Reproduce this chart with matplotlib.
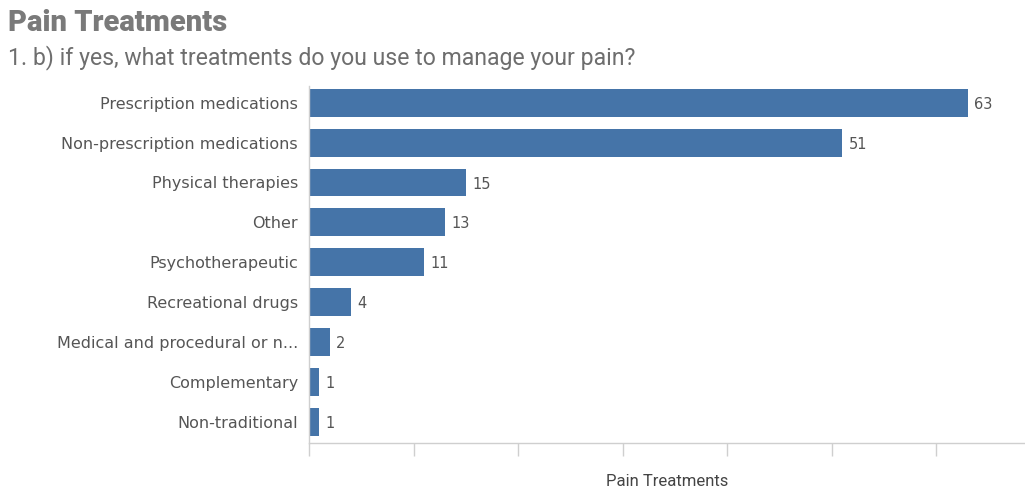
import matplotlib.pyplot as plt

categories = [
    "Prescription medications",
    "Non-prescription medications",
    "Physical therapies",
    "Other",
    "Psychotherapeutic",
    "Recreational drugs",
    "Medical and procedural or n...",
    "Complementary",
    "Non-traditional",
]
counts = [63, 51, 15, 13, 11, 4, 2, 1, 1]

bar_color = "#4574a8"
grid_gray = "#cfcfcf"
text_gray = "#555555"

fig = plt.figure(figsize=(10.25, 4.88), dpi=100)
ax = fig.add_axes([0.3015, 0.092, 0.6985, 0.732])

pos = list(range(len(categories)))
ax.barh(pos, counts, height=0.7, color=bar_color)
for y, v in zip(pos, counts):
    ax.text(v + 0.6, y + 0.04, str(v), va="center", ha="left",
            fontsize=10.5, color=text_gray, family="DejaVu Sans")

ax.set_yticks(pos)
ax.set_yticklabels(categories, fontsize=11.5, color=text_gray, family="DejaVu Sans")
ax.tick_params(axis="y", length=0, pad=8)

ax.set_xlim(0, 68.5)
ax.set_ylim(8.53, -0.42)
ax.set_xticks(range(0, 70, 10))
ax.set_xticklabels([])
ax.tick_params(axis="x", length=9, width=1, color=grid_gray)

for side in ("top", "right"):
    ax.spines[side].set_visible(False)
for side in ("left", "bottom"):
    ax.spines[side].set_color(grid_gray)
    ax.spines[side].set_linewidth(1)

ax.set_xlabel("Pain Treatments", fontsize=12, color="#444444",
              family="Roboto", labelpad=10)

fig.text(0.008, 0.953, "Pain Treatments", fontsize=21, fontweight="heavy",
         color="#7a7a7a", family="Roboto", va="center", ha="left")
fig.text(0.008, 0.882, "1. b) if yes, what treatments do you use to manage your pain?",
         fontsize=16.6, color="#6e6e6e", family="Roboto", va="center", ha="left")

fig.savefig("out.png", dpi=100)
